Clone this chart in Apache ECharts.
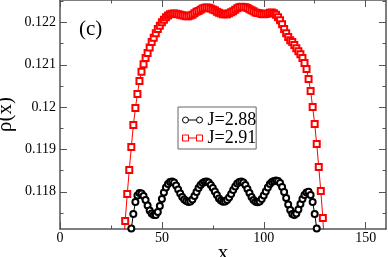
<!DOCTYPE html>
<html><head><meta charset="utf-8">
<script src="https://cdn.jsdelivr.net/npm/echarts@6/dist/echarts.min.js"></script>
<style>html,body{margin:0;padding:0;background:#fff}#c{width:388px;height:257px}</style>
</head><body><div id="c"></div>
<script>
const xBlack = [34,35,36,37,38,39,40,41,42,43,44,45,46,47,48,49,50,51,52,53,54,55,56,57,58,59,60,61,62,63,64,65,66,67,68,69,70,71,72,73,74,75,76,77,78,79,80,81,82,83,84,85,86,87,88,89,90,91,92,93,94,95,96,97,98,99,100,101,102,103,104,105,106,107,108,109,110,111,112,113,114,115,116,117,118,119,120,121,122,123,124,125,126,127];
const yBlack = [0.1165,0.11713,0.117473,0.117757,0.117910,0.117969,0.117958,0.117898,0.117804,0.117674,0.117556,0.117485,0.117450,0.117450,0.117521,0.117662,0.117828,0.117981,0.118099,0.118182,0.118229,0.118241,0.118217,0.118146,0.118052,0.117958,0.117875,0.117816,0.117780,0.117757,0.117769,0.117816,0.117898,0.117993,0.118087,0.118158,0.118205,0.118234,0.118241,0.118217,0.118158,0.118087,0.118005,0.117922,0.117839,0.117792,0.117764,0.117769,0.117804,0.117863,0.117946,0.118040,0.118123,0.118194,0.118229,0.118241,0.118217,0.118158,0.118064,0.117969,0.117875,0.117804,0.117764,0.117750,0.117769,0.117828,0.117910,0.118005,0.118099,0.118182,0.118229,0.118253,0.118264,0.118253,0.118205,0.118111,0.117993,0.117851,0.117698,0.117568,0.117473,0.117450,0.117485,0.117580,0.117710,0.117828,0.117922,0.117981,0.118000,0.117922,0.117757,0.117473,0.11713,0.1165];
const xRed = [31,32,33,34,35,36,37,38,39,40,41,42,43,44,45,46,47,48,49,50,51,52,53,54,55,56,57,58,59,60,61,62,63,64,65,66,67,68,69,70,71,72,73,74,75,76,77,78,79,80,81,82,83,84,85,86,87,88,89,90,91,92,93,94,95,96,97,98,99,100,101,102,103,104,105,106,107,108,109,110,111,112,113,114,115,116,117,118,119,120,121,122,123,124,125,126,127,128,129,130];
const yRed = [0.1165,0.117308,0.117946,0.118512,0.119055,0.119575,0.119976,0.120307,0.120614,0.120833,0.121015,0.121157,0.121275,0.121405,0.121535,0.121641,0.121747,0.121842,0.121924,0.122007,0.122066,0.122125,0.122165,0.122196,0.122208,0.122212,0.122208,0.122196,0.122184,0.122172,0.122156,0.122149,0.122149,0.122165,0.122184,0.122219,0.122250,0.122271,0.122302,0.122330,0.122349,0.122354,0.122349,0.122330,0.122307,0.122290,0.122255,0.122231,0.122212,0.122196,0.122196,0.122196,0.122219,0.122243,0.122266,0.122302,0.122337,0.122361,0.122368,0.122366,0.122361,0.122342,0.122314,0.122290,0.122266,0.122236,0.122224,0.122219,0.122200,0.122196,0.122200,0.122212,0.122231,0.122236,0.122219,0.122184,0.122125,0.122054,0.121960,0.121842,0.121747,0.121653,0.121582,0.121535,0.121464,0.121393,0.121322,0.121251,0.121157,0.121039,0.120897,0.120661,0.120378,0.120000,0.119598,0.119126,0.118583,0.118017,0.117379,0.1165];
const seriesNames = ['J=2.88','J=2.91'];
const xMajorTicks = [0,50,100,150];
const xMinorTicks = [25,75,125];
const yMajorTicks = [0.118,0.119,0.120,0.121,0.122];
const yMinorTicks = [0.1175,0.1185,0.1195,0.1205,0.1215,0.1225];
const xRange = [0,160];
const yRange = [0.11712,0.12253];

const FONT = 'Liberation Serif';
const AX = '#555';
const gridRect = {left:60, top:0, width:326, height:229, outerBoundsMode:'none', containLabel:false};

function axis(kind, grid, pos, ticks, len, labels, extra) {
  const r = kind === 'x' ? xRange : yRange;
  return Object.assign({
    type:'value', gridIndex:grid, position:pos, min:r[0], max:r[1],
    nameMoveOverlap:false,
    axisLine:{show: len > 5, onZero:false, lineStyle:{color:AX, width:1.5}},
    axisTick:{show:true, inside:true, length:len, customValues:ticks, lineStyle:{color:AX, width:1}},
    axisLabel:{show:labels, customValues:ticks, fontFamily:FONT, fontSize:14, color:'#000',
      margin: kind === 'x' ? 2 : 4,
      formatter: v => kind === 'x' ? String(Math.round(v)) : String(parseFloat((+v).toFixed(4)))},
    splitLine:{show:false}
  }, extra || {});
}

const chart = echarts.init(document.getElementById('c'), null, {renderer:'canvas'});
chart.setOption({
  animation:false,
  backgroundColor:'#fff',
  title:{text:'(c)', left:79, top:19, padding:0,
    textStyle:{fontFamily:FONT, fontSize:21, fontWeight:'normal', color:'#000'}},
  grid:[Object.assign({}, gridRect), Object.assign({}, gridRect)],
  xAxis:[
    axis('x',0,'bottom',xMajorTicks,7,true,{name:'x', nameLocation:'middle', nameGap:14,
      nameTextStyle:{fontFamily:FONT, fontSize:21, color:'#000'}}),
    axis('x',0,'top',xMajorTicks,7,false),
    axis('x',1,'bottom',xMinorTicks,3.5,false),
    axis('x',1,'top',xMinorTicks,3.5,false)
  ],
  yAxis:[
    axis('y',0,'left',yMajorTicks,7,true,{name:'ρ(x)', nameLocation:'middle', nameGap:44, nameRotate:90,
      nameTextStyle:{fontFamily:FONT, fontSize:21, color:'#000'}}),
    axis('y',0,'right',yMajorTicks,7,false),
    axis('y',1,'left',yMinorTicks,3.5,false),
    axis('y',1,'right',yMinorTicks,3.5,false)
  ],
  legend:{
    orient:'vertical', left:178, top:107, padding:[4,0,2,2], itemGap:0,
    itemWidth:20, itemHeight:6, borderColor:'#666', borderWidth:1, backgroundColor:'#fff',
    textStyle:{fontFamily:FONT, fontSize:18, color:'#000', lineHeight:14},
    data:[
      {name:seriesNames[0], icon:'path://M0,3a3,3 0 1,0 6,0a3,3 0 1,0 -6,0M6,3L14,3M14,3a3,3 0 1,0 6,0a3,3 0 1,0 -6,0',
        itemStyle:{color:'none', borderColor:'#000', borderWidth:1}},
      {name:seriesNames[1], icon:'path://M0,0h6v6h-6ZM6,3H14M14,0h6v6h-6Z',
        itemStyle:{color:'none', borderColor:'#ff0000', borderWidth:1}}
    ]
  },
  series:[
    {name:seriesNames[0], type:'line', xAxisIndex:0, yAxisIndex:0, clip:true,
      data:xBlack.map((x,i)=>[x,yBlack[i]]),
      symbol:'emptyCircle', symbolSize:6, showAllSymbol:true,
      lineStyle:{color:'#000', width:1}, itemStyle:{color:'#000', borderColor:'#000', borderWidth:1}},
    {name:seriesNames[1], type:'line', xAxisIndex:0, yAxisIndex:0, clip:true,
      data:xRed.map((x,i)=>[x,yRed[i]]),
      symbol:'emptyRect', symbolSize:6, showAllSymbol:true,
      lineStyle:{color:'#ff0000', width:1}, itemStyle:{color:'#ff0000', borderColor:'#ff0000', borderWidth:1}}
  ]
});
</script></body></html>
